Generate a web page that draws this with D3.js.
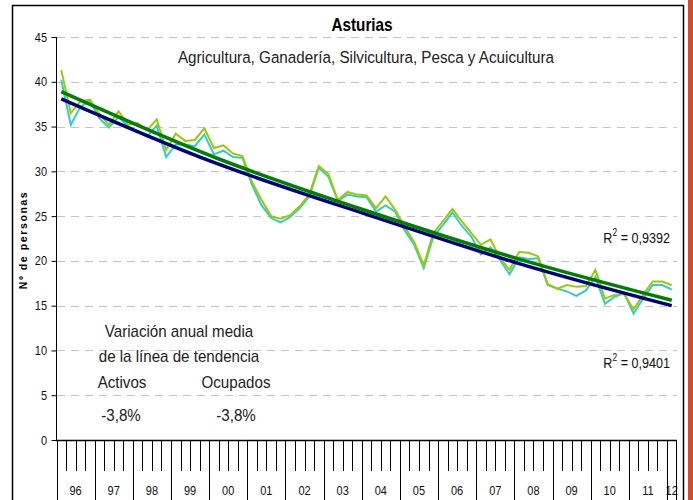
<!DOCTYPE html>
<html>
<head>
<meta charset="utf-8">
<script src="https://cdn.jsdelivr.net/npm/d3@7/dist/d3.min.js"></script>
<style>
body { margin: 0; background: #fff; }
svg text { font-family: "Liberation Sans Narrow", "Arial Narrow", "Liberation Sans", sans-serif; }
</style>
</head>
<body>
<svg id="chart"></svg>
<script>
var width = 693; // size of the page
var height = 500;

// years on the category axis (96 -> 12, 12 only has Q1)
var years = ["96", "97", "98", "99", "00", "01", "02", "03", "04", "05", "06", "07", "08", "09", "10", "11", "12"];
var quartersPerYear = [4, 4, 4, 4, 4, 4, 4, 4, 4, 4, 4, 4, 4, 4, 4, 4, 1];

// Activos (thousands of people), quarterly 96Q1 - 12Q1
var activos = [
	41.3, 36.5, 37.8, 38.0,
	36.4, 35.2, 36.7, 35.2,
	35.4, 34.6, 35.8, 32.4,
	34.2, 33.4, 33.5, 34.8,
	32.6, 32.9, 32.0, 31.7,
	28.8, 26.8, 25.0, 24.7,
	25.1, 26.1, 27.4, 30.6,
	29.7, 26.8, 27.7, 27.4,
	27.3, 25.9, 27.2, 25.7,
	23.8, 22.1, 19.5, 23.1,
	24.4, 25.8, 24.4, 23.1,
	21.8, 22.4, 20.3, 19.0,
	21.0, 20.9, 20.5, 17.4,
	16.9, 17.3, 17.1, 17.2,
	19.0, 15.8, 16.2, 16.3,
	14.6, 16.2, 17.7, 17.7,
	17.3
];

// Ocupados
var ocupados = [
	40.2, 35.2, 37.2, 37.9,
	35.9, 34.9, 36.1, 35.0,
	34.5, 33.9, 35.1, 31.6,
	33.0, 33.0, 32.8, 34.1,
	31.9, 32.3, 31.6, 31.5,
	28.5, 26.2, 24.8, 24.3,
	24.9, 25.9, 27.2, 30.4,
	29.4, 26.7, 27.4, 27.2,
	27.1, 25.5, 26.2, 25.5,
	23.4, 21.8, 19.2, 22.7,
	24.0, 25.4, 23.9, 22.7,
	20.7, 21.5, 20.1, 18.5,
	20.4, 20.2, 20.3, 17.3,
	16.9, 16.6, 16.1, 16.7,
	18.2, 15.2, 16.0, 16.4,
	14.1, 15.8, 17.3, 17.3,
	16.8
];

// trend lines at a few quarters
var trendIdx = [0, 16, 32, 48, 64];
var trendActivos = [38.9, 31.6, 25.6, 20.2, 15.6];
var trendOcupados = [38.1, 31.0, 25.2, 19.7, 15.0];
var r2Labels = ["0,9392", "0,9401"];

var yTicks = [0, 5, 10, 15, 20, 25, 30, 35, 40, 45];
var variacion = ["-3,8%", "-3,8%"];

// build the quarter list
var quarters = [];
years.forEach(function (y, i) {
	for (var q = 0; q < quartersPerYear[i]; q++) quarters.push({ year: y, q: q });
});

var svg = d3.select("#chart")
	.attr("width", width)
	.attr("height", height);

// no narrow font installed -> squeeze the text horizontally
function label(parent, x, y, str, size, k, anchor, weight, fill) {
	return parent.append("text")
		.attr("transform", "translate(" + x + "," + y + ") scale(" + k + ",1)")
		.attr("text-anchor", anchor || "middle")
		.attr("font-size", size)
		.attr("font-weight", weight || "normal")
		.attr("fill", fill || "#222")
		.text(str);
}

// red strip at the right edge
svg.append("rect").attr("x", 688).attr("y", 0).attr("width", 5).attr("height", height).attr("fill", "#e4461c");
// chart frame
svg.append("rect").attr("x", 12.5).attr("y", 5.5).attr("width", 671).attr("height", 510)
	.attr("fill", "#fff").attr("stroke", "#000").attr("stroke-width", 1.5);

var xAxis = d3.scaleBand()
	.domain(d3.range(quarters.length))
	.range([56.5, 676.5])
	.padding(0);

var yAxis = d3.scaleLinear()
	.domain([0, 45])
	.range([440, 37]);

var cx = function (i) { return xAxis(i) + xAxis.bandwidth() / 2; };

// dashed gridlines
svg.append("g").selectAll("line").data(yTicks.filter(function (d) { return d > 0; })).enter().append("line")
	.attr("x1", 57).attr("x2", 677)
	.attr("y1", function (d) { return Math.round(yAxis(d)) + 0.5; })
	.attr("y2", function (d) { return Math.round(yAxis(d)) + 0.5; })
	.attr("stroke", "#c4c4c4").attr("stroke-dasharray", "8,6");

// y axis
var yg = svg.append("g").attr("transform", "translate(56.5,0)")
	.call(d3.axisLeft(yAxis).tickValues(yTicks).tickSize(5).tickPadding(4));
yg.select(".domain").attr("stroke", "#000").attr("d", "M0," + yAxis(45) + "V" + yAxis(0));
yg.selectAll("text").attr("font-size", 12.5).attr("fill", "#111")
	.attr("font-family", "'Liberation Sans Narrow', 'Arial Narrow', sans-serif")
	.attr("transform", "translate(-9.5,0) scale(0.88,1)").attr("x", 0);

svg.append("text")
	.attr("transform", "translate(27,240)rotate(-90)")
	.attr("text-anchor", "middle")
	.attr("font-size", 10.5).attr("font-weight", "bold")
	.style("font-family", "'Liberation Sans', Arial, sans-serif")
	.attr("letter-spacing", 1.6)
	.text("Nº de personas");

// category axis: quarter ticks and year separators
var ticks = d3.range(quarters.length + 1);
svg.append("g").selectAll("line").data(ticks).enter().append("line")
	.attr("x1", function (i) { return i < quarters.length ? Math.round(xAxis(i)) + 0.5 : 676.5; })
	.attr("x2", function (i) { return i < quarters.length ? Math.round(xAxis(i)) + 0.5 : 676.5; })
	.attr("y1", 440)
	.attr("y2", function (i) { return (i == quarters.length || quarters[i].q == 0) ? 500 : 471; })
	.attr("stroke", "#000").attr("stroke-width", 1);
svg.append("line").attr("x1", 56).attr("x2", 677).attr("y1", 440.5).attr("y2", 440.5)
	.attr("stroke", "#000").attr("stroke-width", 1.5);

var start = 0;
var yearPos = years.map(function (y, i) {
	var p = { year: y, first: start, last: start + quartersPerYear[i] - 1 };
	start += quartersPerYear[i];
	return p;
});
svg.append("g").selectAll("text").data(yearPos).enter().append("text")
	.attr("transform", function (d) { return "translate(" + (cx(d.first) + cx(d.last)) / 2 + ",495) scale(0.88,1)"; })
	.attr("text-anchor", "middle")
	.attr("font-size", 12.5).attr("fill", "#111")
	.text(function (d) { return d.year; });

// the two series
var line = d3.line()
	.x(function (d, i) { return cx(i); })
	.y(function (d) { return yAxis(d); });

svg.append("path").datum(ocupados).attr("d", line)
	.attr("fill", "none").attr("stroke", "#33cccc").attr("stroke-width", 2);
svg.append("path").datum(activos).attr("d", line)
	.attr("fill", "none").attr("stroke", "#99cc00").attr("stroke-width", 2);

// trend lines
var trend = d3.line()
	.x(function (d, i) { return cx(trendIdx[i]); })
	.y(function (d) { return yAxis(d); })
	.curve(d3.curveNatural);

svg.append("path").datum(trendOcupados).attr("d", trend)
	.attr("fill", "none").attr("stroke", "#000080").attr("stroke-width", 3.5);
svg.append("path").datum(trendActivos).attr("d", trend)
	.attr("fill", "none").attr("stroke", "#008000").attr("stroke-width", 3.5);

// titles
label(svg, 362, 31, "Asturias", 18, 0.85, "middle", "bold", "#000");
label(svg, 366, 63, "Agricultura, Ganadería, Silvicultura, Pesca y Acuicultura", 17, 0.895);

// R² labels
svg.append("g").selectAll("text").data(r2Labels).enter().append("text")
	.attr("transform", function (d, i) { return "translate(670," + (i == 0 ? 243 : 368) + ") scale(0.84,1)"; })
	.attr("text-anchor", "end")
	.attr("font-size", 15).attr("fill", "#111")
	.each(function (d) {
		var t = d3.select(this);
		t.append("tspan").text("R");
		t.append("tspan").attr("font-size", 10).attr("dy", -7).text("2");
		t.append("tspan").attr("dy", 7).text(" = " + d);
	});

// annotation block
var note = svg.append("g");
label(note, 179, 337, "Variación anual media", 17, 0.89);
label(note, 179, 362, "de la línea de tendencia", 17, 0.89);
label(note, 122, 388, "Activos", 17, 0.89);
label(note, 236, 388, "Ocupados", 17, 0.89);
variacion.forEach(function (d, i) {
	label(note, i == 0 ? 121 : 236, 421, d, 17, 0.89);
});
</script>
</body>
</html>
